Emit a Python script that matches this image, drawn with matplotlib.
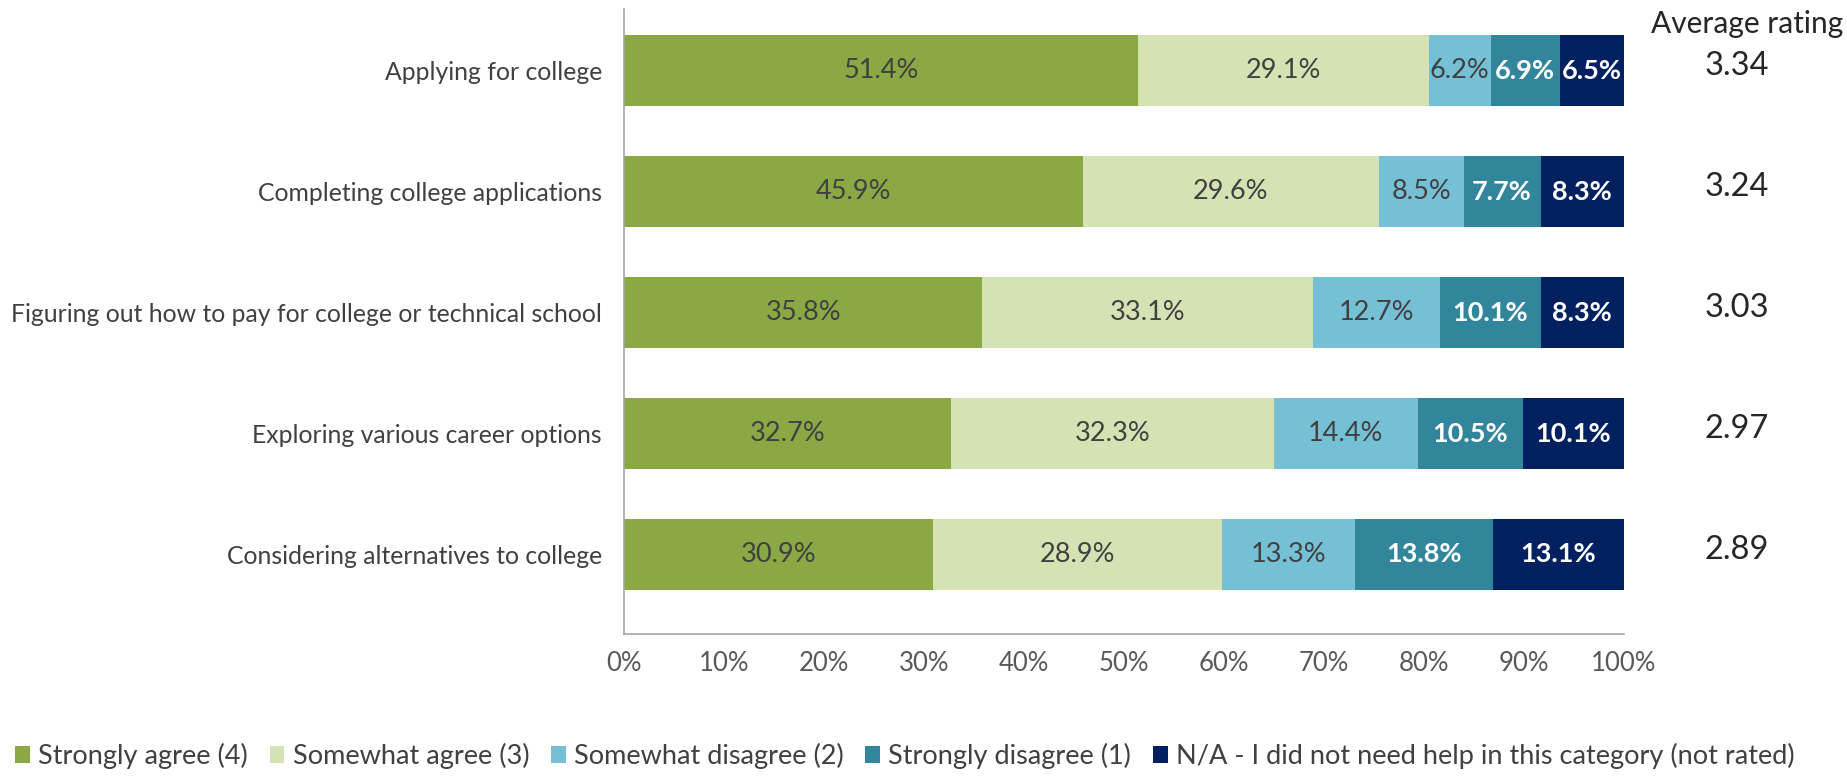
import numpy as np
import matplotlib.pyplot as plt

plt.rcParams['font.family'] = ['Lato', 'DejaVu Sans']

categories = ['Applying for college',
              'Completing college applications',
              'Figuring out how to pay for college or technical school',
              'Exploring various career options',
              'Considering alternatives to college']
series_names = ['Strongly agree (4)', 'Somewhat agree (3)', 'Somewhat disagree (2)',
                'Strongly disagree (1)', 'N/A - I did not need help in this category (not rated)']
strongly_agree = [51.4, 45.9, 35.8, 32.7, 30.9]
somewhat_agree = [29.1, 29.6, 33.1, 32.3, 28.9]
somewhat_disagree = [6.2, 8.5, 12.7, 14.4, 13.3]
strongly_disagree = [6.9, 7.7, 10.1, 10.5, 13.8]
not_applicable = [6.5, 8.3, 8.3, 10.1, 13.1]
avg_rating = ['3.34', '3.24', '3.03', '2.97', '2.89']

colors = ['#8AA843', '#D5E3B4', '#76C0D5', '#31869B', '#002060']
text_colors = ['#404040', '#404040', '#404040', 'white', 'white']
text_weights = ['normal', 'normal', 'normal', 'bold', 'bold']

fig = plt.figure(figsize=(18.47, 7.84), dpi=100)
ax = fig.add_axes([0.338, 0.191, 0.541, 0.7975])

y = np.arange(len(categories))[::-1]
data = [strongly_agree, somewhat_agree, somewhat_disagree, strongly_disagree, not_applicable]
left = np.zeros(len(categories))
handles = []
for vals, name, c, tc, tw in zip(data, series_names, colors, text_colors, text_weights):
    vals = np.array(vals)
    b = ax.barh(y, vals, left=left, height=0.59, color=c, label=name)
    handles.append(b)
    for yi, l, v in zip(y, left, vals):
        ax.text(l + v / 2, yi, f'{v:.1f}%', ha='center', va='center',
                fontsize=19.5, color=tc, fontweight=tw)
    left += vals

ax.set_xlim(0, 100)
ax.set_ylim(-0.66, 4.51)
ax.set_yticks(y)
ax.set_yticklabels(categories, fontsize=17.8, color='#404040')
ax.set_xticks(np.arange(0, 101, 10))
ax.set_xticklabels([f'{t}%' for t in range(0, 101, 10)], fontsize=18.5, color='#595959')
ax.tick_params(axis='both', length=0)
ax.tick_params(axis='y', pad=16)
ax.tick_params(axis='x', pad=12)
for s in ['top', 'right']:
    ax.spines[s].set_visible(False)
for s in ['left', 'bottom']:
    ax.spines[s].set_color('#A6A6A6')
    ax.spines[s].set_linewidth(1.2)

# average rating column
fig.text(0.946, 0.970, 'Average rating', ha='center', va='center', fontsize=21.5, color='#262626')
for yi, r in zip(y, avg_rating):
    yd = ax.transData.transform((0, yi + 0.04))[1]
    yf = fig.transFigure.inverted().transform((0, yd))[1]
    fig.text(0.9405, yf, r, ha='center', va='center', fontsize=23.5, color='#262626')

fig.legend(handles=handles, labels=series_names, loc='lower left', bbox_to_anchor=(-0.005, -0.012),
           ncol=5, frameon=False, fontsize=19.5, handlelength=0.55, handleheight=0.6,
           handletextpad=0.3, columnspacing=0.8, labelcolor='#404040')

fig.savefig('out.png', dpi=100)
